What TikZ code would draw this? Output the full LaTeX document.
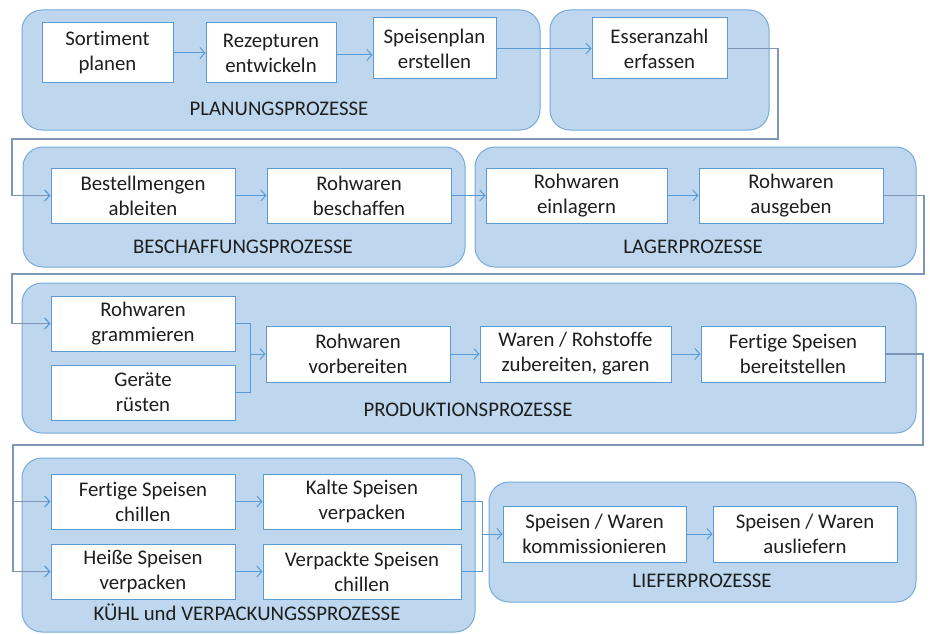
\documentclass[tikz,border=0pt]{standalone}
\usepackage{fontspec}
\setmainfont{Carlito}[Ligatures=NoCommon]
\usetikzlibrary{arrows.meta}
\definecolor{grpfill}{RGB}{190,215,238}
\definecolor{grpline}{RGB}{120,170,218}
\definecolor{boxline}{RGB}{91,155,213}
\definecolor{longline}{RGB}{128,150,182}
\definecolor{txt}{RGB}{30,30,30}
\tikzset{
  grp/.style={draw=grpline, fill=grpfill, rounded corners=20pt, line width=1pt, inner sep=0pt},
  pbox/.style={draw=boxline, fill=white, line width=1pt, align=center, inner sep=0pt, text=txt,
    font=\fontsize{20.8}{25}\selectfont},
  glabel/.style={text=txt, font=\fontsize{20.8}{25}\selectfont, inner sep=0pt},
  arr/.style={draw=boxline, line width=1pt, -{Straight Barb[length=5pt,width=11pt]}},
  lnk/.style={draw=boxline, line width=1pt},
  far/.style={draw=longline, line width=1.2pt},
  fararr/.style={draw=longline, line width=1.2pt, -{Straight Barb[length=5pt,width=11pt,color=boxline]}},
}
\begin{document}
\begin{tikzpicture}[x=1pt,y=-1pt]
\useasboundingbox (0,0) rectangle (930,634);
\fill[white] (0,0) rectangle (930,634);
% groups
\node[grp, minimum width=518pt, minimum height=120pt] (gPlan) at (281,70) {};
\node[grp, minimum width=219pt, minimum height=120pt] (gEss) at (659.5,70) {};
\node[grp, minimum width=442pt, minimum height=120pt] (gBes) at (244,207) {};
\node[grp, minimum width=441pt, minimum height=120pt] (gLag) at (695.5,207) {};
\node[grp, minimum width=894pt, minimum height=150pt] (gPro) at (469,358) {};
\node[grp, minimum width=453pt, minimum height=174pt] (gKue) at (248.5,545) {};
\node[grp, minimum width=427pt, minimum height=120pt] (gLie) at (702.5,542) {};
% group labels
\node[glabel] (lPlan) at (279,108.5) {PLANUNGSPROZESSE};
\node[glabel] (lBes) at (243,246.5) {BESCHAFFUNGSPROZESSE};
\node[glabel] (lLag) at (693,246.5) {LAGERPROZESSE};
\node[glabel] (lPro) at (468,409.5) {PRODUKTIONSPROZESSE};
\node[glabel] (lKue) at (247,612.5) {KÜHL und VERPACKUNGSSPROZESSE};
\node[glabel] (lLie) at (702,580.5) {LIEFERPROZESSE};
% process boxes
\node[pbox, minimum width=131pt, minimum height=60pt] (sort) at (107.5,53) {Sortiment\\planen};
\node[pbox, minimum width=130pt, minimum height=60pt] (rez) at (271,53) {Rezepturen\\entwickeln};
\node[pbox, minimum width=123pt, minimum height=61pt] (splan) at (434.5,48.5) {Speisenplan\\erstellen};
\node[pbox, minimum width=135pt, minimum height=61pt] (ess) at (659.5,48.5) {Esseranzahl\\erfassen};
\node[pbox, minimum width=184pt, minimum height=55pt] (best) at (143,195.5) {Bestellmengen\\ableiten};
\node[pbox, minimum width=184pt, minimum height=55pt] (rbes) at (359,195.5) {Rohwaren\\beschaffen};
\node[pbox, minimum width=181pt, minimum height=55pt] (rein) at (576.5,195.5) {Rohwaren\\einlagern};
\node[pbox, minimum width=184pt, minimum height=55pt] (raus) at (791,195.5) {Rohwaren\\ausgeben};
\node[pbox, minimum width=184pt, minimum height=55pt] (rgram) at (143,323.5) {Rohwaren\\grammieren};
\node[pbox, minimum width=184pt, minimum height=55pt] (ger) at (143,392.5) {Geräte\\rüsten};
\node[pbox, minimum width=184pt, minimum height=56pt] (rvor) at (358,354) {Rohwaren\\vorbereiten};
\node[pbox, minimum width=191pt, minimum height=56pt] (waren) at (575.5,354) {Waren / Rohstoffe\\zubereiten, garen};
\node[pbox, minimum width=184pt, minimum height=56pt] (fber) at (793,354) {Fertige Speisen\\bereitstellen};
\node[pbox, minimum width=184pt, minimum height=55pt] (fchill) at (143,501.5) {Fertige Speisen\\chillen};
\node[pbox, minimum width=198pt, minimum height=55pt] (kalt) at (362,501.5) {Kalte Speisen\\verpacken};
\node[pbox, minimum width=184pt, minimum height=55pt] (heiss) at (143,571.5) {Heiße Speisen\\verpacken};
\node[pbox, minimum width=198pt, minimum height=55pt] (verp) at (362,571.5) {Verpackte Speisen\\chillen};
\node[pbox, minimum width=183pt, minimum height=56pt] (komm) at (594.5,534) {Speisen / Waren\\kommissionieren};
\node[pbox, minimum width=184pt, minimum height=56pt] (ausl) at (805,534) {Speisen / Waren\\ausliefern};
% simple arrows
\draw[arr] (sort.east) -- (rez.west);
\draw[arr] ([yshift=-2pt]rez.east) -- ([yshift=-2pt]rez.east -| splan.west);
\draw[arr] (splan.east) -- (ess.west);
\draw[arr] (best.east) -- (rbes.west);
\draw[arr] (rbes.east) -- (rein.west);
\draw[arr] (rein.east) -- (raus.west);
\draw[arr] (rvor.east) -- (waren.west);
\draw[arr] (waren.east) -- (fber.west);
\draw[arr] (fchill.east) -- (kalt.west);
\draw[arr] (heiss.east) -- (verp.west);
\draw[arr] (komm.east) -- (ausl.west);
% merges
\coordinate (j1) at (250,354);
\draw[lnk] (rgram.east) -- (250,323.5) -- (250,392.5) -- (ger.east);
\draw[arr] (j1) -- (j1 -| rvor.west);
\coordinate (j2) at (482,534);
\draw[lnk] (kalt.east) -- (482,501.5) -- (482,571.5) -- (verp.east);
\draw[arr] (j2) -- (j2 -| komm.west);
% long connectors
\draw[fararr] (ess.east) -- (778,48.5) -- (778,139) -- (12,139) -- (12,195.5) -- (best.west);
\draw[fararr] (raus.east) -- (924,195.5) -- (924,274) -- (12,274) -- (12,323.5) -- (rgram.west);
\coordinate (j3) at (13,501.5);
\draw[fararr] (fber.east) -- (923,354) -- (923,445) -- (13,445) -- (j3) -- (fchill.west);
\draw[fararr] (j3) -- (13,571.5) -- (heiss.west);
\end{tikzpicture}
\end{document}
